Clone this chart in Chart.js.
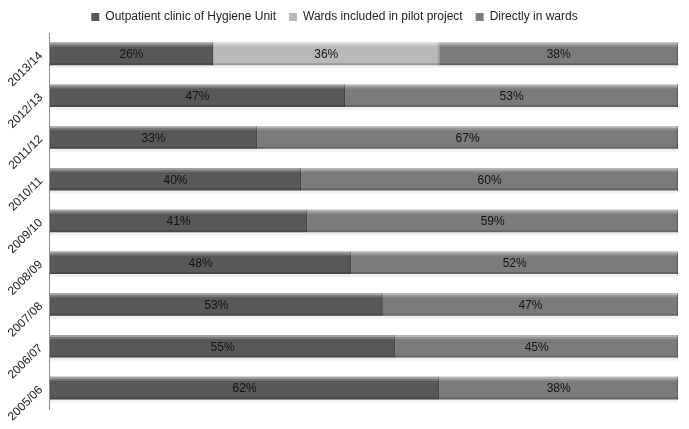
<!DOCTYPE html>
<html>
<head>
<meta charset="utf-8">
<script src="https://cdn.jsdelivr.net/npm/chart.js@4"></script>
<style>
  html, body { margin: 0; padding: 0; background: #fff; }
  #wrap { width: 689px; height: 429px; }
</style>
</head>
<body>
<div id="wrap"><canvas id="chart"></canvas></div>
<script>
// Share of hygiene consultations by location, per year (top row = latest)
const years      = ['2013/14', '2012/13', '2011/12', '2010/11', '2009/10', '2008/09', '2007/08', '2006/07', '2005/06'];
const outpatient = [26, 47, 33, 40, 41, 48, 53, 55, 62];
const pilotWards = [36, 0, 0, 0, 0, 0, 0, 0, 0];
const directly   = [38, 53, 67, 60, 59, 52, 47, 45, 38];

const FONT = '"Liberation Sans", Arial, sans-serif';
const COLORS = ['#585858', '#b9b9b9', '#7b7b7b'];

// Bevel look: light top edge, dark bottom edge, faint shadow under each bar
const bevel = {
  id: 'bevel',
  afterDatasetsDraw(chart) {
    const { ctx } = chart;
    ctx.save();
    chart.data.datasets.forEach((ds, i) => {
      chart.getDatasetMeta(i).data.forEach((bar, j) => {
        if (!ds.data[j]) return;
        const x0 = Math.min(bar.base, bar.x), w = Math.abs(bar.x - bar.base);
        const top = bar.y - bar.height / 2, bot = bar.y + bar.height / 2;
        ctx.fillStyle = 'rgba(255,255,255,0.45)';
        ctx.fillRect(x0, top, w, 2);
        ctx.fillStyle = 'rgba(255,255,255,0.18)';
        ctx.fillRect(x0, top + 2, w, 2);
        ctx.fillStyle = 'rgba(0,0,0,0.18)';
        ctx.fillRect(x0, bot - 2, w, 2);
        ctx.fillStyle = 'rgba(0,0,0,0.06)';
        ctx.fillRect(x0, bot, w, 3);
        // segment edge
        ctx.fillStyle = 'rgba(0,0,0,0.25)';
        ctx.fillRect(Math.max(bar.x, bar.base) - 1, top, 1, bar.height);
      });
    });
    ctx.restore();
  }
};

// Percent labels in the middle of each segment
const segmentLabels = {
  id: 'segmentLabels',
  afterDatasetsDraw(chart) {
    const { ctx } = chart;
    ctx.save();
    ctx.font = '12px ' + FONT;
    ctx.fillStyle = '#111';
    ctx.textAlign = 'center';
    ctx.textBaseline = 'middle';
    chart.data.datasets.forEach((ds, i) => {
      chart.getDatasetMeta(i).data.forEach((bar, j) => {
        const v = ds.data[j];
        if (!v) return;
        ctx.fillText(v + '%', (bar.x + bar.base) / 2, bar.y + 1);
      });
    });
    ctx.restore();
  }
};

new Chart(document.getElementById('chart'), {
  type: 'bar',
  data: {
    labels: years,
    datasets: [
      { label: 'Outpatient clinic of Hygiene Unit', data: outpatient, backgroundColor: COLORS[0], borderWidth: 0 },
      { label: 'Wards included in pilot project', data: pilotWards, backgroundColor: COLORS[1], borderWidth: 0 },
      { label: 'Directly in wards', data: directly, backgroundColor: COLORS[2], borderWidth: 0 }
    ]
  },
  options: {
    indexAxis: 'y',
    responsive: true,
    maintainAspectRatio: false,
    animation: false,
    barPercentage: 0.54,
    categoryPercentage: 1,
    layout: { padding: { left: -9, right: 11, bottom: 20, top: -2 } },
    plugins: {
      legend: {
        position: 'top',
        labels: {
          boxWidth: 8,
          boxHeight: 8,
          color: '#222',
          padding: 13,
          font: { size: 12, family: FONT }
        }
      },
      tooltip: { enabled: false }
    },
    scales: {
      x: { stacked: true, display: false, min: 0, max: 100 },
      y: {
        stacked: true,
        grid: { display: false, drawTicks: false },
        border: { display: true, color: '#8c8c8c' },
        ticks: {
          minRotation: 45,
          maxRotation: 45,
          padding: 9,
          color: '#222',
          font: { size: 12, family: FONT }
        }
      }
    }
  },
  plugins: [bevel, segmentLabels]
});
</script>
</body>
</html>
